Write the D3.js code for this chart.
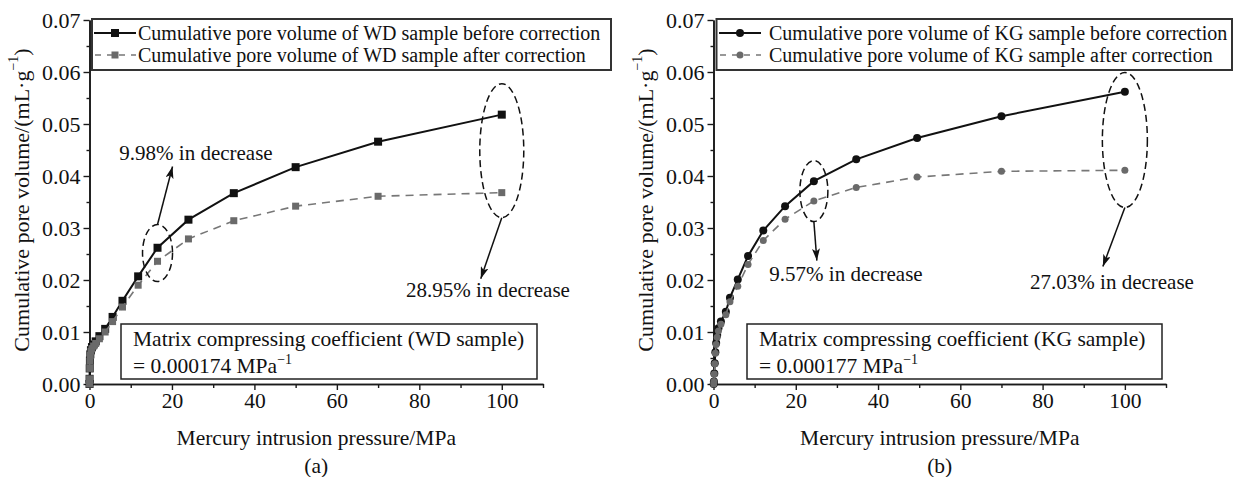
<!DOCTYPE html>
<html><head><meta charset="utf-8">
<script src="https://cdn.jsdelivr.net/npm/d3@7"></script>
<style>
body{margin:0;background:#fff}
svg text{font-family:"Liberation Serif","Times New Roman",serif;fill:#111}
</style>
</head><body>
<svg id="chart" width="1235" height="477"></svg>
<script>
// ---------- data ----------
const yTicks = [0, 0.01, 0.02, 0.03, 0.04, 0.05, 0.06, 0.07];
const yMinorTicks = [0.005, 0.015, 0.025, 0.035, 0.045, 0.055, 0.065];
const xTicks = [0, 20, 40, 60, 80, 100];
const xMinorTicks = [10, 30, 50, 70, 90, 110];

const wdPressure = [0.01, 0.02, 0.05, 0.1, 0.2, 0.35, 0.6, 1.0, 1.5, 2.4, 3.8, 5.6, 8.0, 11.8, 16.5, 24, 35, 50, 70, 100];
const wdBefore   = [0.0000, 0.0010, 0.0030, 0.0045, 0.0057, 0.0065, 0.0071, 0.0076, 0.0082, 0.0092, 0.0106, 0.0129, 0.0160, 0.0207, 0.0262, 0.0316, 0.0367, 0.0417, 0.0466, 0.0518];
const wdAfter    = [0.0000, 0.0010, 0.0030, 0.0044, 0.0055, 0.0063, 0.0068, 0.0073, 0.0078, 0.0087, 0.0100, 0.0120, 0.0148, 0.0190, 0.0236, 0.0279, 0.0314, 0.0342, 0.0361, 0.0368];

const kgPressure = [0.05, 0.1, 0.2, 0.3, 0.45, 0.65, 0.9, 1.2, 1.8, 3.0, 4.0, 5.9, 8.4, 12.1, 17.4, 24.4, 34.7, 49.5, 70, 100];
const kgBefore   = [0.0000, 0.0005, 0.0020, 0.0040, 0.0061, 0.0079, 0.0094, 0.0107, 0.0120, 0.0139, 0.0166, 0.0201, 0.0246, 0.0295, 0.0342, 0.0390, 0.0432, 0.0473, 0.0515, 0.0562];
const kgAfter    = [0.0000, 0.0005, 0.0019, 0.0039, 0.0059, 0.0076, 0.0090, 0.0102, 0.0115, 0.0133, 0.0158, 0.0188, 0.0230, 0.0276, 0.0317, 0.0352, 0.0378, 0.0398, 0.0409, 0.0411];

const wdLegend = ["Cumulative pore volume of WD sample before correction", "Cumulative pore volume of WD sample after correction"];
const kgLegend = ["Cumulative pore volume of KG sample before correction", "Cumulative pore volume of KG sample after correction"];
const wdNote = ["Matrix compressing coefficient (WD sample)", "= 0.000174 MPa"];
const kgNote = ["Matrix compressing coefficient (KG sample)", "= 0.000177 MPa"];
const wdMarks = ["9.98% in decrease", "28.95% in decrease"];
const kgMarks = ["9.57% in decrease", "27.03% in decrease"];
const panelLabels = ["(a)", "(b)"];
const xTitle = "Mercury intrusion pressure/MPa";

// ---------- drawing ----------
const svg = d3.select("#chart");
const FONT = '"Liberation Serif","Times New Roman",serif';

const panels = [
  {pressure: wdPressure, before: wdBefore, after: wdAfter, marker: "square",
   left: 89.5, right: 543, legend: wdLegend, legendBox: [92, 611], legendLine: [94, 136], legendText: 138,
   note: wdNote, noteBox: [121, 537], marks: wdMarks, label: panelLabels[0], yTitleX: 21,
   ann: [
     {idx: 14, rx: 15, ry: 28.5, dy: -1.5, from: "top", tip: [15, -58], tx: 196, ty: 160},
     {idx: 19, rx: 22, ry: 67, dy: -3, from: "bottom", tip: [-21, 61], tx: 488, ty: 297}
   ]},
  {pressure: kgPressure, before: kgBefore, after: kgAfter, marker: "circle",
   left: 713.5, right: 1166, legend: kgLegend, legendBox: [716.5, 1232], legendLine: [719, 761], legendText: 769,
   note: kgNote, noteBox: [747, 1162], marks: kgMarks, label: panelLabels[1], yTitleX: 645,
   ann: [
     {idx: 15, rx: 14, ry: 30.5, dy: 0, from: "bottom", tip: [3, 39], tx: 846, ty: 281},
     {idx: 19, rx: 22.5, ry: 67.5, dy: 9, from: "bottom", tip: [-22, 59], tx: 1112, ty: 289}
   ]}
];

svg.append("defs").append("marker")
  .attr("id", "arrow").attr("viewBox", "0 0 12 8").attr("refX", 12).attr("refY", 4)
  .attr("markerWidth", 12).attr("markerHeight", 8).attr("markerUnits", "userSpaceOnUse")
  .attr("orient", "auto")
  .append("path").attr("d", "M0,0 L12,4 L0,8 L3,4 Z").attr("fill", "#111");

function drawMarker(sel, type, color, size) {
  if (type === "square") {
    sel.append("rect").attr("x", -size/2).attr("y", -size/2).attr("width", size).attr("height", size).attr("fill", color);
  } else {
    sel.append("circle").attr("r", size/2).attr("fill", color);
  }
}

panels.forEach(p => {
  const g = svg.append("g");
  const x = d3.scaleLinear().domain([0, 110]).range([p.left, p.right]);
  const y = d3.scaleLinear().domain([0, 0.07]).range([384, 20]);

  // axes
  const styleAxis = fs => a => {
    a.attr("font-family", FONT).attr("font-size", fs);
    a.selectAll("line").attr("stroke", "#1a1a1a").attr("stroke-width", 1.4);
    a.selectAll("path").attr("stroke", "#1a1a1a").attr("stroke-width", 1.6);
    a.selectAll("text").attr("fill", "#111");
  };
  g.append("g").attr("transform", `translate(${p.left},0)`)
    .call(d3.axisLeft(y).tickValues(yMinorTicks).tickSize(3).tickFormat("").tickSizeOuter(0))
    .call(styleAxis(22));
  g.append("g").attr("transform", `translate(${p.left},0)`)
    .call(d3.axisLeft(y).tickValues(yTicks).tickSize(6).tickPadding(3).tickFormat(d3.format(".2f")).tickSizeOuter(0))
    .call(styleAxis(22));
  g.append("g").attr("transform", `translate(0,384)`)
    .call(d3.axisBottom(x).tickValues(xMinorTicks).tickSize(4).tickFormat("").tickSizeOuter(0))
    .call(styleAxis(21));
  g.append("g").attr("transform", `translate(0,384)`)
    .call(d3.axisBottom(x).tickValues(xTicks).tickSize(6).tickPadding(3).tickFormat(d3.format("d")).tickSizeOuter(0))
    .call(styleAxis(21.5));

  // axis titles
  const yt = g.append("text").attr("transform", `translate(${p.yTitleX},${200}) rotate(-90)`)
    .attr("text-anchor", "middle").attr("dominant-baseline", "central").attr("font-size", 22);
  yt.append("tspan").text("Cumulative pore volume/(mL·g");
  yt.append("tspan").attr("font-size", 14).attr("dy", -8).text("−1");
  yt.append("tspan").attr("dy", 8).text(")");
  g.append("text").attr("x", (p.left + p.right) / 2).attr("y", 445)
    .attr("text-anchor", "middle").attr("font-size", 21.5).text(xTitle);
  g.append("text").attr("x", (p.left + p.right) / 2).attr("y", 473)
    .attr("text-anchor", "middle").attr("font-size", 21.5).text(p.label);

  const before = p.pressure.map((d, i) => ({p: d, v: p.before[i]}));
  const after = p.pressure.map((d, i) => ({p: d, v: p.after[i]}));
  const line = d3.line().x(d => x(d.p)).y(d => y(d.v));

  // before series
  g.append("path").datum(before).attr("d", line).attr("fill", "none").attr("stroke", "#111").attr("stroke-width", 2);
  before.forEach(d => drawMarker(g.append("g").attr("transform", `translate(${x(d.p)},${y(d.v)})`), p.marker, "#111", 8));
  // after series
  g.append("path").datum(after).attr("d", line).attr("fill", "none").attr("stroke", "#777")
    .attr("stroke-width", 1.6).attr("stroke-dasharray", "8,6");
  after.forEach(d => drawMarker(g.append("g").attr("transform", `translate(${x(d.p)},${y(d.v)})`), p.marker, "#6a6a6a", 7));

  // annotations
  p.ann.forEach((a, k) => {
    const cx = x(p.pressure[a.idx]);
    const cy = (y(p.before[a.idx]) + y(p.after[a.idx])) / 2 + a.dy;
    g.append("ellipse").attr("cx", cx).attr("cy", cy).attr("rx", a.rx).attr("ry", a.ry)
      .attr("fill", "none").attr("stroke", "#111").attr("stroke-width", 1.5).attr("stroke-dasharray", "7,4");
    const sy = a.from === "top" ? cy - a.ry : cy + a.ry;
    g.append("line").attr("x1", cx).attr("y1", sy).attr("x2", cx + a.tip[0]).attr("y2", sy + a.tip[1])
      .attr("stroke", "#111").attr("stroke-width", 1.5).attr("marker-end", "url(#arrow)");
    g.append("text").attr("x", a.tx).attr("y", a.ty).attr("text-anchor", "middle").attr("font-size", 21).text(p.marks[k]);
  });

  // note box
  g.append("rect").attr("x", p.noteBox[0]).attr("y", 324).attr("width", p.noteBox[1] - p.noteBox[0]).attr("height", 55)
    .attr("fill", "#fff").attr("stroke", "#222").attr("stroke-width", 1.5);
  g.append("text").attr("x", p.noteBox[0] + 12).attr("y", 346).attr("font-size", 21.5).text(p.note[0]);
  const n2 = g.append("text").attr("x", p.noteBox[0] + 12).attr("y", 373).attr("font-size", 21.5);
  n2.append("tspan").text(p.note[1]);
  n2.append("tspan").attr("font-size", 14).attr("dy", -9).text("−1");

  // legend
  g.append("rect").attr("x", p.legendBox[0]).attr("y", 19).attr("width", p.legendBox[1] - p.legendBox[0]).attr("height", 51)
    .attr("fill", "#fff").attr("stroke", "#333").attr("stroke-width", 2);
  const rows = [33, 55];
  const lm = (p.legendLine[0] + p.legendLine[1]) / 2;
  g.append("line").attr("x1", p.legendLine[0]).attr("x2", p.legendLine[1]).attr("y1", rows[0]).attr("y2", rows[0])
    .attr("stroke", "#111").attr("stroke-width", 2);
  drawMarker(g.append("g").attr("transform", `translate(${lm},${rows[0]})`), p.marker, "#111", 8);
  g.append("line").attr("x1", p.legendLine[0]).attr("x2", p.legendLine[1]).attr("y1", rows[1]).attr("y2", rows[1])
    .attr("stroke", "#777").attr("stroke-width", 1.6).attr("stroke-dasharray", "6,6").attr("stroke-dashoffset", -1);
  drawMarker(g.append("g").attr("transform", `translate(${lm},${rows[1]})`), p.marker, "#6a6a6a", 7);
  p.legend.forEach((t, i) => {
    g.append("text").attr("x", p.legendText).attr("y", rows[i]).attr("dominant-baseline", "central")
      .attr("font-size", 20).text(t);
  });
});
</script>
</body></html>
